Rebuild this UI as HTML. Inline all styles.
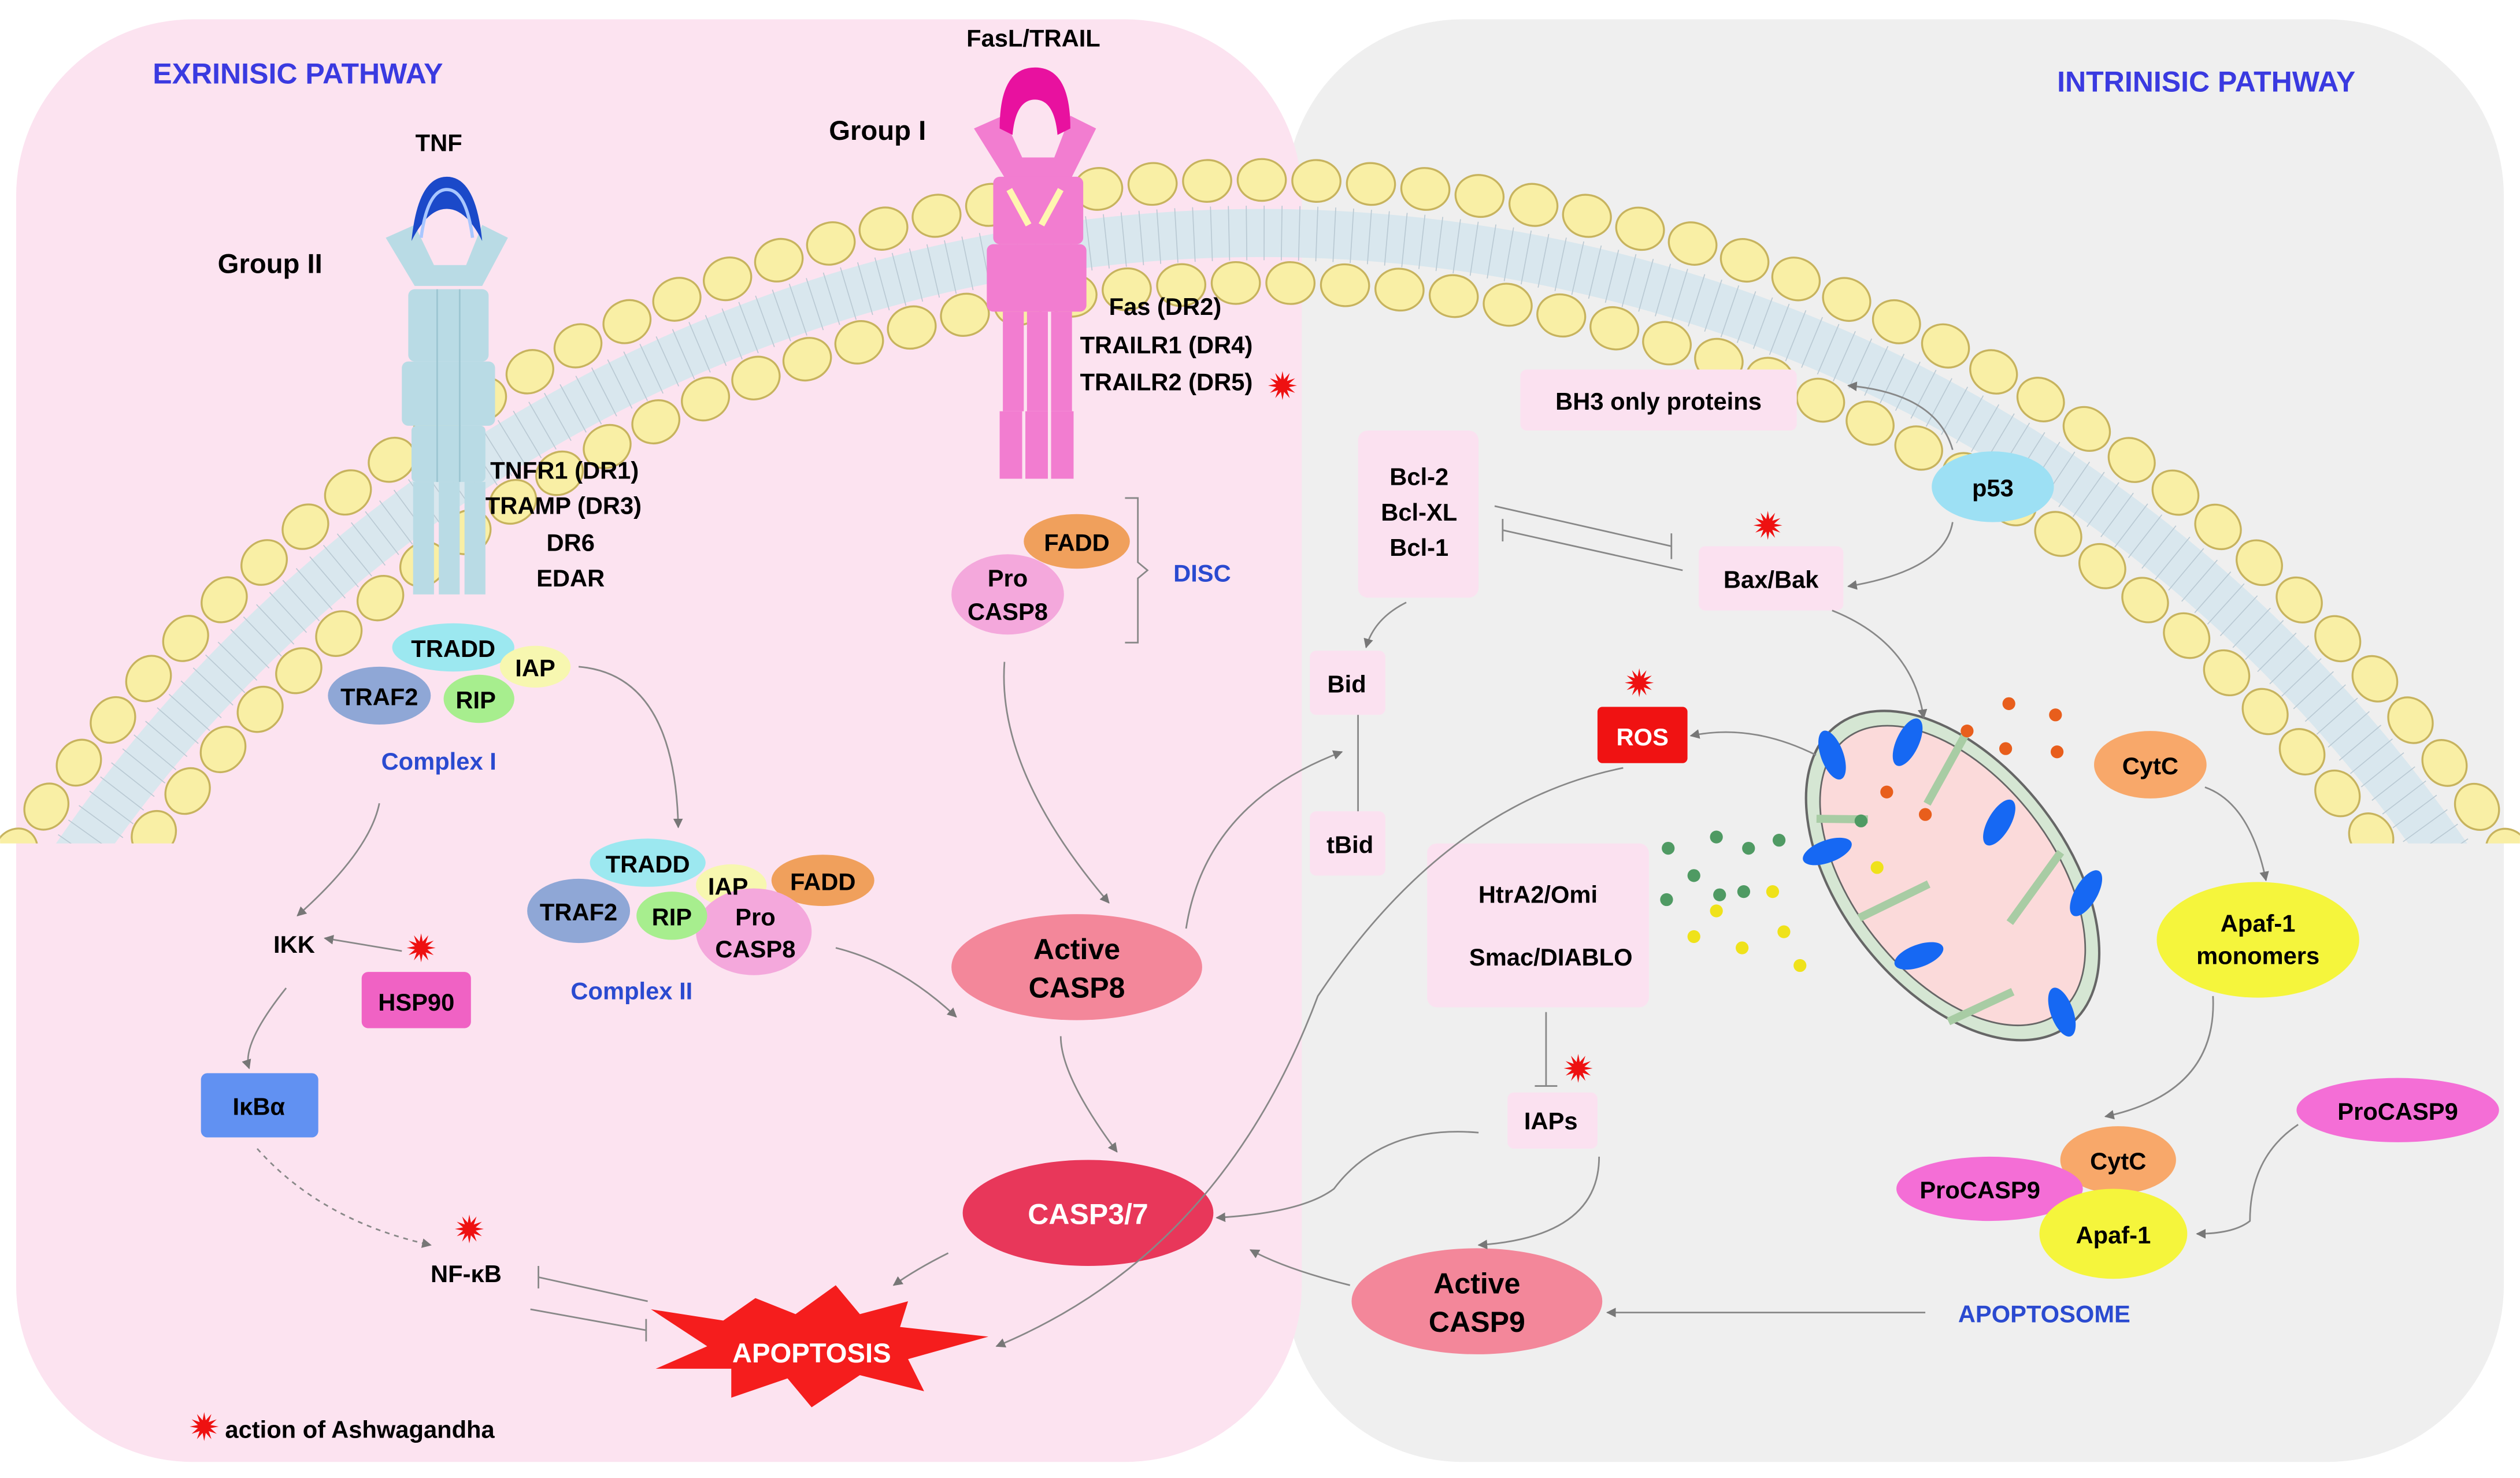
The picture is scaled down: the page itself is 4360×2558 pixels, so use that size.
<!DOCTYPE html>
<html><head><meta charset="utf-8"><style>
html,body{margin:0;padding:0;background:#fff;width:4360px;height:2558px;overflow:hidden}
svg{display:block;overflow:hidden}
text{font-family:"Liberation Sans",sans-serif;font-weight:bold}
</style></head><body>
<svg id="s" width="4360" height="2558" viewBox="0 0 1568 920" xmlns="http://www.w3.org/2000/svg">
<defs>
<marker id="ah" viewBox="0 0 10 10" refX="9" refY="5" markerWidth="6" markerHeight="6" orient="auto-start-reverse"><path d="M0,0 L10,5 L0,10 z" fill="#777"/></marker>
<clipPath id="mc"><rect x="0" y="0" width="1568" height="525"/></clipPath>
</defs>
<rect width="1568" height="920" fill="#fff"/>
<rect x="800" y="12" width="758" height="898" rx="110" fill="#efefef"/>
<rect x="10" y="12" width="800" height="898" rx="110" fill="#fce3f0"/>
<g id="mem" clip-path="url(#mc)"></g>

<!-- TNF receptor -->
<g fill="#b9dbe5">
<polygon points="240,148 258,140 270,165 290,165 300,140 316,148 300,178 258,178"/>
<rect x="254" y="180" width="50" height="45" rx="4"/>
<rect x="250" y="225" width="58" height="40" rx="4"/>
<rect x="256" y="265" width="46" height="35" rx="3"/>
<rect x="257" y="300" width="13" height="70"/><rect x="273" y="300" width="13" height="70"/><rect x="289" y="300" width="13" height="70"/>
</g>
<g stroke="#9cc6d2" stroke-width="1" fill="none"><path d="M272,180 V300 M286,180 V300"/></g>
<path d="M256,150 Q260,110 278,110 Q296,110 300,150 Q290,130 278,130 Q266,130 256,150z" fill="#1b49c9"/>
<path d="M262,148 Q266,118 278,118 Q290,118 294,148" fill="none" stroke="#a9c7ff" stroke-width="2"/>

<!-- Fas receptor -->
<g fill="#f27dd0">
<polygon points="606,80 624,72 636,98 656,98 666,72 682,80 666,112 626,112"/>
<rect x="618" y="110" width="56" height="42" rx="4"/>
<rect x="614" y="152" width="62" height="42" rx="4"/>
<rect x="624" y="194" width="13" height="62"/><rect x="639" y="194" width="13" height="62"/><rect x="654" y="194" width="13" height="62"/>
<rect x="622" y="256" width="14" height="42"/><rect x="638" y="256" width="14" height="42"/><rect x="654" y="256" width="14" height="42"/>
</g>
<path d="M622,80 Q622,42 644,42 Q666,42 666,80 L658,84 Q656,62 644,62 Q632,62 630,84z" fill="#e8119f"/>
<path d="M628,118 L640,140 M660,118 L648,140" stroke="#fff6b0" stroke-width="4"/>

<!-- Labels -->
<text x="95" y="52" font-size="18" fill="#3a3ae0">EXRINISIC PATHWAY</text>
<text x="1280" y="57" font-size="18" fill="#3a3ae0">INTRINISIC PATHWAY</text>
<text x="273" y="94" font-size="15" text-anchor="middle">TNF</text>
<text x="168" y="170" font-size="17" text-anchor="middle">Group II</text>
<text x="643" y="29" font-size="15" text-anchor="middle">FasL/TRAIL</text>
<text x="546" y="87" font-size="17" text-anchor="middle">Group I</text>
<g font-size="15"><text x="305" y="298">TNFR1 (DR1)</text><text x="302" y="320">TRAMP (DR3)</text><text x="355" y="343" text-anchor="middle">DR6</text><text x="355" y="365" text-anchor="middle">EDAR</text>
<text x="690" y="196">Fas (DR2)</text><text x="672" y="220">TRAILR1 (DR4)</text><text x="672" y="243">TRAILR2 (DR5)</text></g>

<!-- Complex I -->
<ellipse cx="282" cy="403" rx="38" ry="15" fill="#9ce8f0"/>
<ellipse cx="333" cy="415" rx="22" ry="13" fill="#f7f7b0"/>
<ellipse cx="236" cy="433" rx="32" ry="18" fill="#8fa7d6"/>
<ellipse cx="298" cy="435" rx="22" ry="15" fill="#a7ee8e"/>
<g font-size="15" text-anchor="middle"><text x="282" y="409">TRADD</text><text x="333" y="421">IAP</text><text x="236" y="439">TRAF2</text><text x="296" y="441">RIP</text></g>
<text x="273" y="479" font-size="15" fill="#2a4ad0" text-anchor="middle">Complex I</text>

<!-- Complex II -->
<ellipse cx="403" cy="537" rx="36" ry="15" fill="#9ce8f0"/>
<ellipse cx="512" cy="548" rx="32" ry="16" fill="#f0a05c"/>
<ellipse cx="455" cy="551" rx="22" ry="13" fill="#f7f7b0"/>
<ellipse cx="360" cy="567" rx="32" ry="20" fill="#8fa7d6"/>
<ellipse cx="469" cy="580" rx="36" ry="27" fill="#f4a8dc"/>
<ellipse cx="418" cy="570" rx="22" ry="15" fill="#a7ee8e"/>
<g font-size="15" text-anchor="middle"><text x="403" y="543">TRADD</text><text x="512" y="554">FADD</text><text x="453" y="557">IAP</text><text x="360" y="573">TRAF2</text><text x="418" y="576">RIP</text><text x="470" y="576">Pro</text><text x="470" y="596">CASP8</text></g>
<text x="393" y="622" font-size="15" fill="#2a4ad0" text-anchor="middle">Complex II</text>

<!-- DISC -->
<ellipse cx="670" cy="337" rx="33" ry="17" fill="#f0a05c"/>
<ellipse cx="627" cy="370" rx="35" ry="25" fill="#f4a8dc"/>
<g font-size="15" text-anchor="middle"><text x="670" y="343">FADD</text><text x="627" y="365">Pro</text><text x="627" y="386">CASP8</text></g>
<path d="M700,310 H708 V350 L714,355 L708,360 V400 H700" fill="none" stroke="#888"/>
<text x="748" y="362" font-size="15" fill="#2a4ad0" text-anchor="middle">DISC</text>

<!-- left lower -->
<text x="183" y="593" font-size="15" text-anchor="middle">IKK</text>
<rect x="225" y="605" width="68" height="35" rx="4" fill="#f062c4"/>
<text x="259" y="629" font-size="15" text-anchor="middle">HSP90</text>
<rect x="125" y="668" width="73" height="40" rx="4" fill="#6191f2"/>
<text x="161" y="694" font-size="15" text-anchor="middle">IκBα</text>
<text x="290" y="798" font-size="15" text-anchor="middle">NF-κB</text>

<polygon points="405,815 450,822 470,808 495,818 520,800 535,818 565,810 560,826 615,832 565,846 575,866 535,856 505,876 490,858 455,870 455,852 408,852 440,838" fill="#f51d1d"/>
<text x="505" y="848" font-size="17" fill="#fff" text-anchor="middle">APOPTOSIS</text>

<ellipse cx="670" cy="602" rx="78" ry="33" fill="#f3879a"/>
<text x="670" y="597" font-size="18" text-anchor="middle">Active</text><text x="670" y="621" font-size="18" text-anchor="middle">CASP8</text>
<ellipse cx="677" cy="755" rx="78" ry="33" fill="#e8375a"/>
<text x="677" y="762" font-size="18" fill="#fff" text-anchor="middle">CASP3/7</text>
<ellipse cx="919" cy="810" rx="78" ry="33" fill="#f3879a"/>
<text x="919" y="805" font-size="18" text-anchor="middle">Active</text><text x="919" y="829" font-size="18" text-anchor="middle">CASP9</text>

<!-- right boxes -->
<g fill="#fbe1f0">
<rect x="946" y="230" width="172" height="38" rx="4"/>
<rect x="845" y="268" width="75" height="104" rx="6"/>
<rect x="1057" y="340" width="90" height="40" rx="4"/>
<rect x="815" y="405" width="47" height="40" rx="4"/>
<rect x="815" y="505" width="47" height="40" rx="4"/>
<rect x="888" y="525" width="138" height="102" rx="6"/>
<rect x="938" y="680" width="56" height="35" rx="4"/>
</g>
<g font-size="15" text-anchor="middle">
<text x="1032" y="255">BH3 only proteins</text>
<text x="883" y="302">Bcl-2</text><text x="883" y="324">Bcl-XL</text><text x="883" y="346">Bcl-1</text>
<text x="1102" y="366">Bax/Bak</text>
<text x="838" y="431">Bid</text><text x="840" y="531">tBid</text>
<text x="957" y="562">HtrA2/Omi</text><text x="965" y="601">Smac/DIABLO</text>
<text x="965" y="703">IAPs</text>
</g>
<ellipse cx="1240" cy="303" rx="38" ry="22" fill="#9de0f4"/>
<text x="1240" y="309" font-size="15" text-anchor="middle">p53</text>
<rect x="994" y="440" width="56" height="35" rx="3" fill="#f01212"/>
<text x="1022" y="464" font-size="15" fill="#fff" text-anchor="middle">ROS</text>

<!-- mitochondrion -->
<g transform="translate(1215,545) rotate(52)">
<ellipse rx="118" ry="70" fill="#d5e6d3" stroke="#666" stroke-width="1.5"/>
<ellipse rx="108" ry="62" fill="#fbdada" stroke="#666" stroke-width="1"/>
<path d="M-65,-62 L-45,-15 M-15,62 L-5,15 M30,-62 L45,-10 M70,58 L80,15 M-80,45 L-60,20" stroke="#a8cca4" stroke-width="5"/>
</g>
<g fill="#1668f3">
<ellipse cx="1140" cy="470" rx="7" ry="16" transform="rotate(-20 1140 470)"/>
<ellipse cx="1187" cy="462" rx="7" ry="16" transform="rotate(25 1187 462)"/>
<ellipse cx="1137" cy="530" rx="7" ry="16" transform="rotate(70 1137 530)"/>
<ellipse cx="1244" cy="512" rx="7" ry="16" transform="rotate(30 1244 512)"/>
<ellipse cx="1298" cy="556" rx="7" ry="16" transform="rotate(30 1298 556)"/>
<ellipse cx="1194" cy="595" rx="7" ry="16" transform="rotate(70 1194 595)"/>
<ellipse cx="1283" cy="630" rx="7" ry="16" transform="rotate(-20 1283 630)"/>
</g>
<g fill="#e85e1c"><circle cx="1250" cy="438" r="4"/><circle cx="1279" cy="445" r="4"/><circle cx="1224" cy="455" r="4"/><circle cx="1248" cy="466" r="4"/><circle cx="1280" cy="468" r="4"/><circle cx="1174" cy="493" r="4"/><circle cx="1198" cy="507" r="4"/></g>
<g fill="#4f9a63"><circle cx="1038" cy="528" r="4"/><circle cx="1068" cy="521" r="4"/><circle cx="1088" cy="528" r="4"/><circle cx="1107" cy="523" r="4"/><circle cx="1054" cy="545" r="4"/><circle cx="1085" cy="555" r="4"/><circle cx="1158" cy="511" r="4"/><circle cx="1070" cy="557" r="4"/><circle cx="1037" cy="560" r="4"/></g>
<g fill="#efe21a"><circle cx="1168" cy="540" r="4"/><circle cx="1103" cy="555" r="4"/><circle cx="1068" cy="567" r="4"/><circle cx="1110" cy="580" r="4"/><circle cx="1054" cy="583" r="4"/><circle cx="1084" cy="590" r="4"/><circle cx="1120" cy="601" r="4"/></g>

<ellipse cx="1338" cy="476" rx="35" ry="21" fill="#f8a86a"/>
<text x="1338" y="482" font-size="15" text-anchor="middle">CytC</text>
<ellipse cx="1405" cy="585" rx="63" ry="36" fill="#f5f53c"/>
<text x="1405" y="580" font-size="15" text-anchor="middle">Apaf-1</text><text x="1405" y="600" font-size="15" text-anchor="middle">monomers</text>
<ellipse cx="1492" cy="691" rx="63" ry="20" fill="#f46ed6"/>
<text x="1492" y="697" font-size="15" text-anchor="middle">ProCASP9</text>
<ellipse cx="1318" cy="722" rx="36" ry="21" fill="#f8a86a"/>
<ellipse cx="1238" cy="740" rx="58" ry="20" fill="#f46ed6"/>
<ellipse cx="1315" cy="768" rx="46" ry="28" fill="#f5f53c"/>
<g font-size="15" text-anchor="middle"><text x="1318" y="728">CytC</text><text x="1232" y="746">ProCASP9</text><text x="1315" y="774">Apaf-1</text></g>
<text x="1272" y="823" font-size="15" fill="#2a4ad0" text-anchor="middle">APOPTOSOME</text>

<!-- arrows -->
<g fill="none" stroke="#888" stroke-width="1" marker-end="url(#ah)">
<path d="M360,415 Q420,420 422,515"/>
<path d="M236,500 Q230,530 185,570"/>
<path d="M250,592 L202,584"/>
<path d="M178,615 Q150,650 155,665"/>
<path d="M160,715 Q200,760 268,775" stroke-dasharray="3,3"/>
<path d="M625,412 Q620,480 690,562"/>
<path d="M520,590 Q560,600 595,633"/>
<path d="M738,578 Q750,500 835,468"/>
<path d="M660,645 Q660,670 695,717"/>
<path d="M590,780 Q570,790 556,800"/>
<path d="M920,705 Q860,700 830,740 Q810,755 757,758"/>
<path d="M995,720 Q995,770 920,775"/>
<path d="M840,800 Q800,790 778,778"/>
<path d="M1198,817 H1000"/>
<path d="M1010,478 Q900,500 820,620 Q760,780 620,838"/>
<path d="M1130,470 Q1090,450 1052,458"/>
<path d="M1215,280 Q1205,245 1150,240"/>
<path d="M1215,325 Q1210,355 1150,365"/>
<path d="M1140,380 Q1190,400 1197,447"/>
<path d="M875,375 Q855,385 850,403"/>
<path d="M1372,490 Q1400,500 1410,548"/>
<path d="M1377,620 Q1380,680 1310,695"/>
<path d="M1430,700 Q1400,720 1400,760 Q1390,768 1367,768"/>
</g>
<g fill="none" stroke="#888" stroke-width="1">
<path d="M845,445 V505"/>
<path d="M930,315 L1040,340 M1040,332 V348" />
<path d="M1047,355 L935,330 M935,323 V337"/>
<path d="M962,630 V676 M955,676 H969"/>
<path d="M403,810 L335,795 M335,788 V802"/>
<path d="M330,815 L402,828 M402,821 V835"/>
</g>

<g id="stars" fill="#ee1111"></g>
<text x="140" y="895" font-size="15">action of Ashwagandha</text>
</svg>
<script>
var NS="http://www.w3.org/2000/svg",g=document.getElementById("mem");
function el(t,a){var e=document.createElementNS(NS,t);for(var k in a)e.setAttribute(k,a[k]);return e;}
var cx=785,cy=1040;
function P(R,d){var r=d*Math.PI/180;return (cx+R*Math.cos(r)).toFixed(1)+","+(cy+R*Math.sin(r)).toFixed(1);}
g.appendChild(el("path",{d:"M"+P(910,212)+" A910,910 0 0 1 "+P(910,328)+" L"+P(880,328)+" A880,880 0 0 0 "+P(880,212)+"z",fill:"#d9e7ee"}));
for(var a=212;a<=328;a+=0.7){var r=a*Math.PI/180;g.appendChild(el("line",{x1:cx+878*Math.cos(r),y1:cy+878*Math.sin(r),x2:cx+912*Math.cos(r),y2:cy+912*Math.sin(r),stroke:"#b9c9d3","stroke-width":0.6}));}
[[928,0],[864,1.05]].forEach(function(L){var R=L[0],st=34/R;for(var a=3.65+L[1]*st*0.5;a<5.78;a+=st){g.appendChild(el("ellipse",{cx:cx+R*Math.cos(a),cy:cy+R*Math.sin(a),rx:15,ry:13,fill:"#f9efa5",stroke:"#c7b35e","stroke-width":1.2,transform:"rotate("+(a*180/Math.PI+90)+" "+(cx+R*Math.cos(a))+" "+(cy+R*Math.sin(a))+")"}));}});
var sg=document.getElementById("stars");
[[798,240],[262,590],[292,765],[1100,327],[1020,425],[982,665],[127,888]].forEach(function(p){var pts=[];for(var i=0;i<24;i++){var r=i%2?4:9,t=i*Math.PI/12;pts.push((p[0]+r*Math.cos(t)).toFixed(1)+","+(p[1]+r*Math.sin(t)).toFixed(1));}sg.appendChild(el("polygon",{points:pts.join(" ")}));});
</script>
</body></html>
